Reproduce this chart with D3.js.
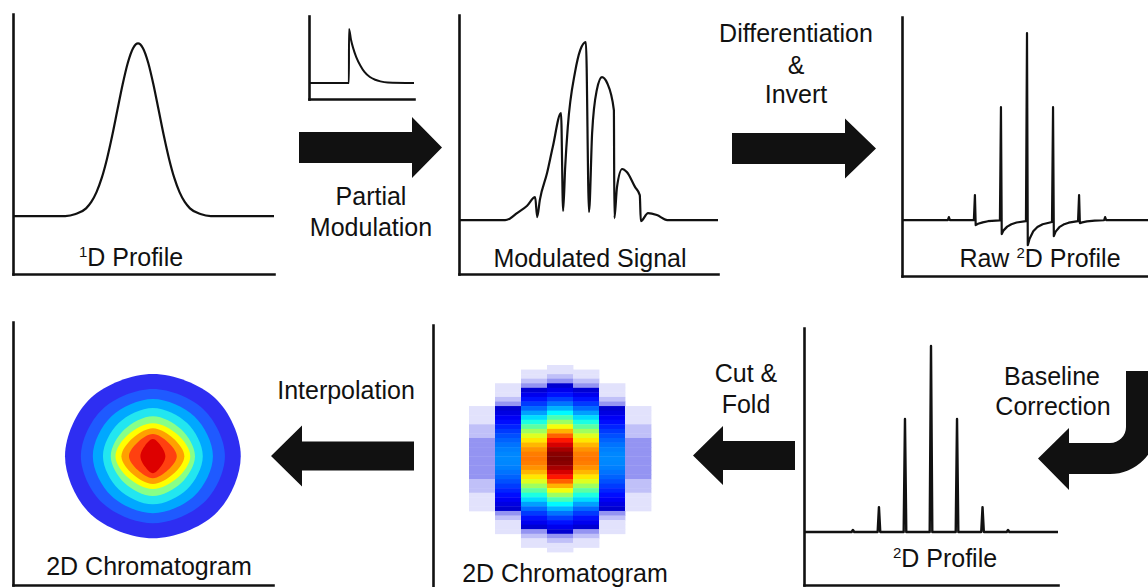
<!DOCTYPE html>
<html>
<head>
<meta charset="utf-8">
<script src="https://cdn.jsdelivr.net/npm/d3@7"></script>
<style>
  body { margin: 0; background: #fff; }
  text { font-family: "Liberation Sans", Arial, sans-serif; font-size: 25px; fill: #111; text-anchor: middle; }
</style>
</head>
<body>
<svg id="chart" width="1148" height="587"></svg>
<script>
// ---- data ----

// 1D profile (first-dimension peak), time in min, normalised signal
const firstDimTime = [0, 2.0, 2.4, 2.8, 3.0, 3.2, 3.4, 3.6, 3.8, 4.0, 4.2, 4.4, 4.6, 4.79, 4.98, 5.18, 5.38, 5.58, 5.78, 5.98, 6.18, 6.38, 6.58, 6.78, 7.18, 7.58, 10];
const firstDimSignal = [0, 0, 0.012, 0.045, 0.082, 0.139, 0.221, 0.331, 0.465, 0.614, 0.762, 0.888, 0.972, 1, 0.972, 0.888, 0.762, 0.614, 0.465, 0.331, 0.221, 0.139, 0.082, 0.045, 0.012, 0, 0];

// modulator pulse (inset)
const pulseTime = [0, 3.8, 3.81, 4.0, 4.2, 4.5, 4.9, 5.3, 5.8, 6.3, 6.8, 7.5, 10];
const pulseSignal = [0, 0, 1, 0.8, 0.65, 0.48, 0.32, 0.2, 0.11, 0.06, 0.03, 0.01, 0];

// modulated signal, time in s
const modTime = [0, 8.9, 9.8, 11.2, 13.1, 14.7, 15.1, 15.6, 17.0, 18.1, 19.7, 20.1, 20.5, 21.0, 22.4, 23.4, 24.5, 25.1, 25.7, 26.6, 27.6, 28.6, 29.9, 30.0, 30.5, 31.5, 32.4, 34.0, 34.9, 35.1, 36.5, 38.2, 40.2, 50];
const modSignal = [0, 0, 0.008, 0.039, 0.079, 0.129, 0.017, 0.112, 0.264, 0.41, 0.601, 0.051, 0.298, 0.522, 0.831, 0.955, 1, 0.045, 0.489, 0.73, 0.803, 0.77, 0.618, 0.011, 0.185, 0.287, 0.27, 0.185, 0.14, -0.006, 0.039, 0.028, 0, 0];

// raw 2D profile after differentiation & inversion
const rawTime = [0, 8.8, 9.0, 9.2, 13.8, 14.0, 14.15, 14.6, 15.5, 16.5, 18.8, 19.0, 19.15, 19.5, 20.2, 21.0, 22.0, 23.8, 24.0, 24.15, 24.5, 25.2, 26.0, 27.0, 28.8, 29.0, 29.15, 29.5, 30.2, 31.0, 32.0, 33.8, 34.0, 34.15, 34.6, 35.5, 37.0, 38.8, 39.0, 39.2, 48];
const rawSignal = [0, 0, 0.016, 0, 0, 0.134, -0.027, -0.02, -0.012, -0.006, -0.002, 0.604, -0.075, -0.055, -0.035, -0.022, -0.013, -0.006, 1.0, -0.134, -0.1, -0.06, -0.037, -0.022, -0.01, 0.604, -0.086, -0.062, -0.038, -0.024, -0.014, -0.006, 0.134, -0.016, -0.012, -0.007, -0.003, -0.001, 0.016, 0, 0];

// baseline-corrected 2D profile: peak apex times and heights
const correctedTimes = [9.4, 14.4, 19.4, 24.4, 29.4, 34.3, 39.2];
const correctedHeights = [0.011, 0.134, 0.608, 1.0, 0.608, 0.134, 0.011];

// folded chromatogram: amplitude of each modulation column and 2D peak shape per row
const modulationAmplitude = [0.067, 0.26, 0.76, 1, 0.76, 0.26, 0.067];
const peakShape = [0.019, 0.028, 0.040, 0.057, 0.079, 0.107, 0.142, 0.186, 0.239, 0.300, 0.370, 0.447, 0.529, 0.614, 0.699, 0.780, 0.853, 0.915, 0.961, 0.990, 1, 0.990, 0.961, 0.915, 0.853, 0.780, 0.699, 0.614, 0.529, 0.447, 0.370, 0.300, 0.239, 0.186, 0.142, 0.107, 0.079, 0.057, 0.040, 0.028, 0.019];

// interpolated chromatogram: contour levels (axis units)
const contourLevel = [0.1, 0.2, 0.3, 0.4, 0.5, 0.6, 0.7, 0.8, 0.9];
const contourHalfWidth = [3.38, 2.77, 2.31, 1.92, 1.62, 1.44, 1.21, 0.92, 0.48];
const contourHalfHeight = [3.12, 2.55, 2.17, 1.83, 1.52, 1.25, 1.06, 0.84, 0.65];
const contourRoundness = [1.0, 0.99, 0.98, 0.97, 0.95, 0.93, 0.91, 0.89, 0.88];
const contourCentre = [5.38, 4.9];

// ---- styles ----
const ink = '#111';
const contourColors = ['#2e2ef2', '#1f5aff', '#00a8ff', '#22e6f0', '#88ff88', '#ffff00', '#ffa000', '#ff4010', '#dd0000'];
const jet = d3.piecewise(d3.interpolateRgb, ['#00007f', '#0000ff', '#007fff', '#00ffff', '#7fff7f', '#ffff00', '#ff7f00', '#ff0000', '#7f0000']);
const lowLevels = d3.scaleThreshold().domain([0.037, 0.055, 0.07]).range(['#e2e2fc', '#c0c0f8', '#9494f2', null]);
const minLevel = 0.018;

const svg = d3.select('#chart');

function axes(x, y, showBottom = true) {
  const g = svg.append('g').attr('color', ink);
  g.append('g')
    .attr('transform', `translate(${x.range()[0]},0)`)
    .call(d3.axisLeft(y).ticks(0).tickSizeOuter(0));
  if (showBottom) {
    g.append('g')
      .attr('transform', `translate(0,${y.range()[0]})`)
      .call(d3.axisBottom(x).ticks(0).tickSizeOuter(0));
  }
  g.selectAll('.domain').attr('stroke-width', 2.6).attr('stroke-linecap', 'square');
}

function trace(x, y, xs, ys, curve, width = 2.2) {
  const line = d3.line().x(d => x(d[0])).y(d => y(d[1])).curve(curve);
  svg.append('path')
    .datum(d3.zip(xs, ys))
    .attr('d', line)
    .attr('fill', 'none')
    .attr('stroke', ink)
    .attr('stroke-width', width)
    .attr('stroke-linejoin', 'round');
}

function label(x, y, parts) {
  const t = svg.append('text').attr('x', x).attr('y', y);
  parts.forEach(p => {
    if (p.sup) t.append('tspan').attr('font-size', 15).attr('dy', -9).text(p.sup);
    else t.append('tspan').attr('dy', p.after ? 9 : 0).text(p.text);
  });
}

// ---- 1D profile ----
const x1 = d3.scaleLinear().domain([0, 10]).range([13, 274]);
const y1 = d3.scaleLinear().domain([-0.335, 1.17]).range([274, 14]);
axes(x1, y1);
trace(x1, y1, firstDimTime, firstDimSignal, d3.curveMonotoneX);
label(131, 266, [{ sup: '1' }, { text: 'D Profile', after: true }]);

// ---- modulator inset ----
const xp = d3.scaleLinear().domain([0, 10]).range([309, 414]);
const yp = d3.scaleLinear().domain([-0.296, 1.24]).range([99, 16]);
axes(xp, yp);
trace(xp, yp, pulseTime, pulseSignal, d3.curveMonotoneX, 2);

// ---- modulated signal ----
const x2 = d3.scaleLinear().domain([0, 50]).range([459, 718]);
const y2 = d3.scaleLinear().domain([-0.303, 1.152]).range([274, 15]);
axes(x2, y2);
trace(x2, y2, modTime, modSignal, d3.curveMonotoneX);
label(590, 267, [{ text: 'Modulated Signal' }]);

// ---- raw 2D profile ----
const x3 = d3.scaleLinear().domain([0, 48]).range([902, 1152]);
const y3 = d3.scaleLinear().domain([-0.299, 1.086]).range([276, 17]);
axes(x3, y3);
trace(x3, y3, rawTime, rawSignal, d3.curveLinear);
label(1040, 267, [{ text: 'Raw ' }, { sup: '2' }, { text: 'D Profile', after: true }]);

// ---- baseline-corrected 2D profile ----
const x6 = d3.scaleLinear().domain([0, 48.8]).range([804, 1058]);
const y6 = d3.scaleLinear().domain([-0.285, 1.097]).range([585, 328]);
axes(x6, y6);
const corrT = [0], corrS = [0];
correctedTimes.forEach((t, i) => {
  corrT.push(t - 0.25, t, t + 0.25);
  corrS.push(0, correctedHeights[i], 0);
});
corrT.push(48.8); corrS.push(0);
trace(x6, y6, corrT, corrS, d3.curveLinear, 2.4);
label(945, 567, [{ sup: '2' }, { text: 'D Profile', after: true }]);

// ---- folded (pixel) chromatogram ----
const y5 = d3.scaleLinear().domain([0, 10]).range([592, 325]);
const x5 = d3.scaleLinear().domain([0, 10]).range([433, 693]);
axes(x5, y5, false);
const colBand = d3.scaleBand().domain(d3.range(modulationAmplitude.length)).range([469, 651]);
const rowBand = d3.scaleBand().domain(d3.range(peakShape.length)).range([365, 552]);
const cells = [];
modulationAmplitude.forEach((a, c) => peakShape.forEach((s, r) => {
  const v = a * s;
  if (v >= minLevel) cells.push({ c, r, v });
}));
svg.append('g').selectAll('rect')
  .data(cells)
  .join('rect')
  .attr('x', d => colBand(d.c))
  .attr('y', d => rowBand(d.r))
  .attr('width', colBand.bandwidth() + 0.4)
  .attr('height', rowBand.bandwidth() + 0.4)
  .attr('fill', d => lowLevels(d.v) || jet(d.v));
label(565, 582, [{ text: '2D Chromatogram' }]);

// ---- interpolated (contour) chromatogram ----
const x4 = d3.scaleLinear().domain([0, 10]).range([13, 273]);
const y4 = d3.scaleLinear().domain([0, 10]).range([585, 322]);
axes(x4, y4);
const ringLine = d3.line().x(d => x4(d[0])).y(d => y4(d[1])).curve(d3.curveCardinalClosed.tension(0));
const rings = contourLevel.map((lv, i) => {
  const pts = d3.range(8).map(k => {
    const a = k * Math.PI / 4;
    const f = k % 2 ? contourRoundness[i] : 1;
    return [contourCentre[0] + f * contourHalfWidth[i] * Math.cos(a),
            contourCentre[1] + f * contourHalfHeight[i] * Math.sin(a)];
  });
  return { lv, pts, color: contourColors[i] };
});
svg.append('g').selectAll('path')
  .data(rings)
  .join('path')
  .attr('d', d => ringLine(d.pts))
  .attr('fill', d => d.color);
label(149, 575, [{ text: '2D Chromatogram' }]);

// ---- process arrows ----
function flatArrow(tipX, tailX, cy, headLen, headHalf, bodyHalf) {
  const s = Math.sign(tailX - tipX);
  const hx = tipX + s * headLen;
  return `M${tipX},${cy}L${hx},${cy - headHalf}L${hx},${cy - bodyHalf}L${tailX},${cy - bodyHalf}` +
         `L${tailX},${cy + bodyHalf}L${hx},${cy + bodyHalf}L${hx},${cy + headHalf}Z`;
}
const arrows = svg.append('g').attr('fill', ink);
arrows.append('path').attr('d', flatArrow(442, 299, 147.5, 30, 30.5, 15.5));
arrows.append('path').attr('d', flatArrow(876, 732, 148.5, 31, 30, 15.5));
arrows.append('path').attr('d', flatArrow(271, 414, 456, 31, 30.5, 14.5));
arrows.append('path').attr('d', flatArrow(693, 795, 455.5, 30, 29.5, 14.5));
arrows.append('path').attr('d',
  'M1038,458.5L1069,428L1069,443L1110,443A16,16 0 0 0 1126,427L1126,371L1157,371L1157,427' +
  'A47,47 0 0 1 1110,474L1069,474L1069,490Z');

label(371, 205, [{ text: 'Partial' }]);
label(371, 236, [{ text: 'Modulation' }]);
label(796, 42, [{ text: 'Differentiation' }]);
label(796, 74, [{ text: '&' }]);
label(796, 103, [{ text: 'Invert' }]);
label(346, 399, [{ text: 'Interpolation' }]);
label(746, 382, [{ text: 'Cut &' }]);
label(746, 413, [{ text: 'Fold' }]);
label(1052, 385, [{ text: 'Baseline' }]);
label(1053, 415, [{ text: 'Correction' }]);
</script>
</body>
</html>
